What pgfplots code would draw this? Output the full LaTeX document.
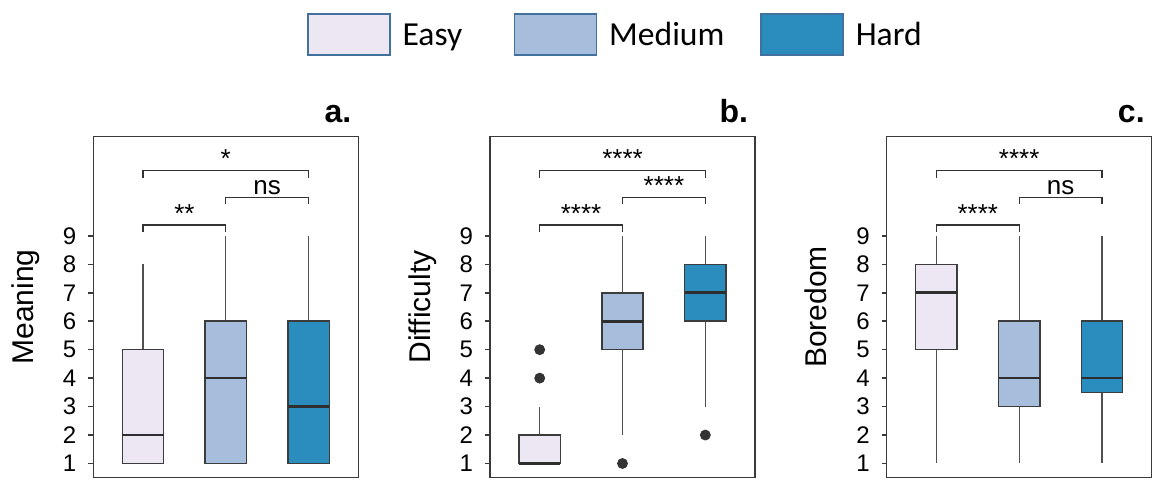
\documentclass[border=0pt]{standalone}
\usepackage{fontspec}
\setmainfont{Liberation Sans}
\newfontfamily\calibri{Carlito}
\usepackage{pgfplots}
\pgfplotsset{compat=1.18}
\usepgfplotslibrary{statistics}

\definecolor{easy}{HTML}{ECE7F2}
\definecolor{medium}{HTML}{A6BDDB}
\definecolor{hard}{HTML}{2B8CBE}
\definecolor{boxc}{HTML}{3C3C3C}
\definecolor{framec}{HTML}{3A3A3A}
\definecolor{medc}{HTML}{2E2E2E}
\definecolor{whc}{HTML}{505050}
\definecolor{outc}{HTML}{333333}
\definecolor{legc}{HTML}{41719C}

\pgfplotsset{
  panel/.style={
    scale only axis, width=132.5pt, height=170.7pt,
    xmin=0.4, xmax=3.6, ymin=0.5, ymax=12.5,
    xtick=\empty, ytick={1,...,9},
    tick align=outside, major tick length=2.5pt,
    ytick pos=left,
    axis line style={draw=framec, line width=0.75pt},
    ytick style={draw=framec, line width=0.75pt},
    yticklabel style={font=\fontsize{12}{14}\selectfont, xshift=-2.5pt},
    /pgf/number format/assume math mode=true,
    every axis y label/.style={at={(axis description cs:-0.2264,0.5)}, anchor=base, rotate=90, font=\fontsize{15}{17}\selectfont},
    clip=false,
  },
  bp/.style={
    boxplot/draw direction=y,
    boxplot/whisker extend=0,
    boxplot/box extend=0.5,
    boxplot/every whisker/.style={draw=whc, line width=0.55pt},
    boxplot/every median/.style={draw=medc, line width=1.3pt},
    boxplot/every box/.style={draw=boxc, line width=0.75pt, fill=#1},
    mark=*, mark size=2.5pt, mark options={fill=outc, draw=outc},
  },
}
\tikzset{
  brk/.style={draw=outc, line width=0.6pt},
  sig/.style={anchor=base, font=\fontsize{13}{15}\selectfont, yshift=1.4pt},
  letter/.style={anchor=base east, font=\bfseries\fontsize{16}{18}\selectfont, yshift=7pt},
}

\newcommand\brackets[3]{%
  \draw[brk] (axis cs:1,9.15) -- (axis cs:1,9.38) -- (axis cs:2,9.38) -- (axis cs:2,9.15);
  \draw[brk] (axis cs:2,10.11) -- (axis cs:2,10.35) -- (axis cs:3,10.35) -- (axis cs:3,10.11);
  \draw[brk] (axis cs:1,11.05) -- (axis cs:1,11.3) -- (axis cs:3,11.3) -- (axis cs:3,11.05);
  \node[sig] at (axis cs:1.5,9.38) {#1};
  \node[sig] at (axis cs:2.5,10.35) {#2};
  \node[sig] at (axis cs:2,11.3) {#3};
}

\begin{document}
\begin{tikzpicture}
\path[use as bounding box] (0,0) rectangle (577.5pt,239.5pt);

% ---------- a. Meaning ----------
\begin{axis}[panel, at={(46.65pt,0.65pt)}, anchor=south west, ylabel={Meaning},
  legend columns=3,
  legend style={at={(axis description cs:0.8064,1.3603)}, anchor=north west,
    draw=none, fill=none, inner sep=0pt, outer sep=0pt,
    cells={anchor=base west},
    nodes={inner sep=0pt, font=\calibri\fontsize{16.8}{19}\selectfont},
    /tikz/every odd column/.style={column sep=6pt}},
  legend image code/.code={\draw[#1] (0pt,-4.7pt) rectangle (41pt,15.8pt);}]
\addlegendimage{fill=easy, draw=legc, line width=0.8pt}
\addlegendentry{\makebox[55.5pt][l]{Easy}}
\addlegendimage{fill=medium, draw=legc, line width=0.8pt}
\addlegendentry{\makebox[75.5pt][l]{Medium}}
\addlegendimage{fill=hard, draw=legc, line width=0.8pt}
\addlegendentry{Hard}
\addplot[bp=easy, forget plot, boxplot prepared={draw position=1, lower whisker=1, lower quartile=1, median=2, upper quartile=5, upper whisker=8}] coordinates {};
\addplot[bp=medium, forget plot, boxplot prepared={draw position=2, lower whisker=1, lower quartile=1, median=4, upper quartile=6, upper whisker=9}] coordinates {};
\addplot[bp=hard, forget plot, boxplot prepared={draw position=3, lower whisker=1, lower quartile=1, median=3, upper quartile=6, upper whisker=9}] coordinates {};
\brackets{**}{ns}{*}
\node[letter] at (rel axis cs:1,1) {a.};
\end{axis}

% ---------- b. Difficulty ----------
\begin{axis}[panel, at={(245pt,0.65pt)}, anchor=south west, ylabel={Difficulty}]
\addplot[bp=easy, boxplot prepared={draw position=1, lower whisker=1, lower quartile=1, median=1, upper quartile=2, upper whisker=3}] coordinates {(0,4) (0,5)};
\addplot[bp=medium, boxplot prepared={draw position=2, lower whisker=2, lower quartile=5, median=6, upper quartile=7, upper whisker=9}] coordinates {(0,1)};
\addplot[bp=hard, boxplot prepared={draw position=3, lower whisker=3, lower quartile=6, median=7, upper quartile=8, upper whisker=9}] coordinates {(0,2)};
\brackets{****}{****}{****}
\node[letter] at (rel axis cs:1,1) {b.};
\end{axis}

% ---------- c. Boredom ----------
\begin{axis}[panel, at={(443.35pt,0.65pt)}, anchor=south west, ylabel={Boredom}]
\addplot[bp=easy, boxplot prepared={draw position=1, lower whisker=1, lower quartile=5, median=7, upper quartile=8, upper whisker=9}] coordinates {};
\addplot[bp=medium, boxplot prepared={draw position=2, lower whisker=1, lower quartile=3, median=4, upper quartile=6, upper whisker=9}] coordinates {};
\addplot[bp=hard, boxplot prepared={draw position=3, lower whisker=1, lower quartile=3.5, median=4, upper quartile=6, upper whisker=9}] coordinates {};
\brackets{****}{ns}{****}
\node[letter] at (rel axis cs:1,1) {c.};
\end{axis}
\end{tikzpicture}
\end{document}
